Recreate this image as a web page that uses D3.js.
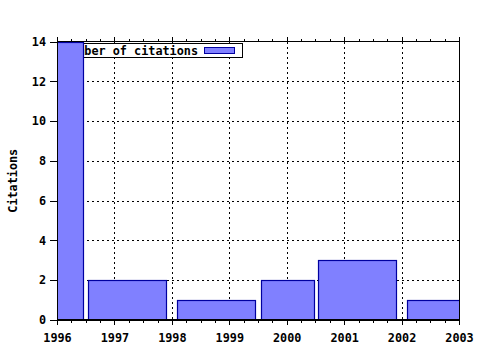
<!DOCTYPE html>
<html>
<head>
<meta charset="utf-8">
<title>Citations</title>
<script src="https://cdn.jsdelivr.net/npm/d3@7"></script>
<style>
  body { margin: 0; background: #fff; }
  text { font-family: "DejaVu Sans Mono", monospace; font-weight: bold; font-size: 11.5px; fill: #000; }
  .grid line { stroke: #000; stroke-width: 1; stroke-dasharray: 2,3; shape-rendering: crispEdges; }
  .axis path, .axis line { stroke: #000; shape-rendering: crispEdges; }
</style>
</head>
<body>
<script>
// years on the x axis
var yearTicks = [1996, 1997, 1998, 1999, 2000, 2001, 2002, 2003];
var citationTicks = [0, 2, 4, 6, 8, 10, 12, 14];
// each box: where it starts and ends (in years) and its height
var barStart = [1995.6, 1996.54, 1998.09, 1999.55, 2000.54, 2002.09];
var barEnd   = [1996.45, 1997.9, 1999.45, 2000.47, 2001.91, 2003.3];
var citations = [14, 2, 1, 2, 3, 1];
var legendLabel = "Number of citations";

var width = 480, height = 350;
var plotLeft = 57, plotRight = 459, plotTop = 41.5, plotBottom = 320;

var svg = d3.select("body").append("svg")
  .attr("width", width)
  .attr("height", height);

var x = d3.scaleLinear().domain([1996, 2003]).range([plotLeft, plotRight]);
var y = d3.scaleLinear().domain([0, 14]).range([plotBottom, plotTop]);

// minor ticks every quarter year
var minorTicks = [];
yearTicks.slice(0, -1).forEach(function(yr) {
  [0.25, 0.5, 0.75].forEach(function(f) { minorTicks.push(yr + f); });
});

// grid
var grid = svg.append("g").attr("class", "grid");
grid.selectAll(".gx").data(yearTicks.slice(1, -1)).enter().append("line")
  .attr("x1", function(d) { return Math.round(x(d)) + 0.5; })
  .attr("x2", function(d) { return Math.round(x(d)) + 0.5; })
  .attr("y1", plotTop).attr("y2", plotBottom);
grid.selectAll(".gy").data(citationTicks.slice(1, -1)).enter().append("line")
  .attr("y1", function(d) { return Math.round(y(d)) + 0.5; })
  .attr("y2", function(d) { return Math.round(y(d)) + 0.5; })
  .attr("x1", plotLeft).attr("x2", plotRight);

// legend (the first box is drawn over it)
var lg = svg.append("g");
lg.append("rect")
  .attr("x", 60.5).attr("y", 43.5).attr("width", 182).attr("height", 14)
  .attr("fill", "#fff").attr("stroke", "#000");
lg.append("text")
  .attr("x", 198).attr("y", 55)
  .attr("text-anchor", "end")
  .style("font-size", "11.8px")
  .text(legendLabel);
lg.append("rect")
  .attr("x", 204.5).attr("y", 47.5).attr("width", 30).attr("height", 6)
  .attr("fill", "#8080ff").attr("stroke", "#0000a0");

// boxes
svg.append("clipPath").attr("id", "plot")
  .append("rect").attr("x", plotLeft).attr("y", plotTop)
  .attr("width", plotRight - plotLeft).attr("height", plotBottom - plotTop);

svg.append("g").attr("clip-path", "url(#plot)")
  .selectAll("rect").data(citations).enter().append("rect")
  .attr("x", function(d, i) { return Math.round(x(barStart[i])) + 0.5; })
  .attr("width", function(d, i) { return Math.round(x(barEnd[i])) - Math.round(x(barStart[i])); })
  .attr("y", function(d) { return Math.round(y(d)) + 0.5; })
  .attr("height", function(d) { return Math.round(plotBottom) - Math.round(y(d)); })
  .attr("fill", "#8080ff")
  .attr("stroke", "#0000a0")
  .attr("stroke-width", 1.2);

// axes
var xAxis = d3.axisBottom(x).tickValues(yearTicks).tickFormat(d3.format("d"))
  .tickSize(5).tickPadding(6).tickSizeOuter(0);
svg.append("g").attr("class", "axis")
  .attr("transform", "translate(0," + plotBottom + ")")
  .call(xAxis)
  .call(function(g) { g.select(".domain").remove(); g.selectAll("text").style("font-size", "11.8px").attr("dy", "0.9em"); });

svg.append("g").attr("class", "axis")
  .attr("transform", "translate(0," + plotBottom + ")")
  .call(d3.axisBottom(x).tickValues(minorTicks).tickFormat("").tickSize(3).tickSizeOuter(0))
  .call(function(g) { g.select(".domain").remove(); });

svg.append("g").attr("class", "axis")
  .attr("transform", "translate(0," + plotTop + ")")
  .call(d3.axisTop(x).tickValues(yearTicks).tickFormat("").tickSize(5).tickSizeOuter(0))
  .call(function(g) { g.select(".domain").remove(); });

svg.append("g").attr("class", "axis")
  .attr("transform", "translate(0," + plotTop + ")")
  .call(d3.axisTop(x).tickValues(minorTicks).tickFormat("").tickSize(3).tickSizeOuter(0))
  .call(function(g) { g.select(".domain").remove(); });

svg.append("g").attr("class", "axis")
  .attr("transform", "translate(" + plotLeft + ",0)")
  .call(d3.axisLeft(y).tickValues(citationTicks).tickSize(7).tickPadding(4).tickSizeOuter(0))
  .call(function(g) { g.select(".domain").remove(); g.selectAll("text").style("font-size", "11.8px"); });

// border
svg.append("rect")
  .attr("x", plotLeft + 0.5).attr("y", plotTop)
  .attr("width", plotRight - plotLeft).attr("height", plotBottom - plotTop)
  .attr("fill", "none").attr("stroke", "#000").attr("stroke-width", 1.3)
  .style("shape-rendering", "crispEdges");

svg.append("text")
  .attr("transform", "translate(17," + ((plotTop + plotBottom) / 2) + ") rotate(-90)")
  .attr("text-anchor", "middle")
  .style("font-size", "11.8px")
  .text("Citations");
</script>
</body>
</html>
